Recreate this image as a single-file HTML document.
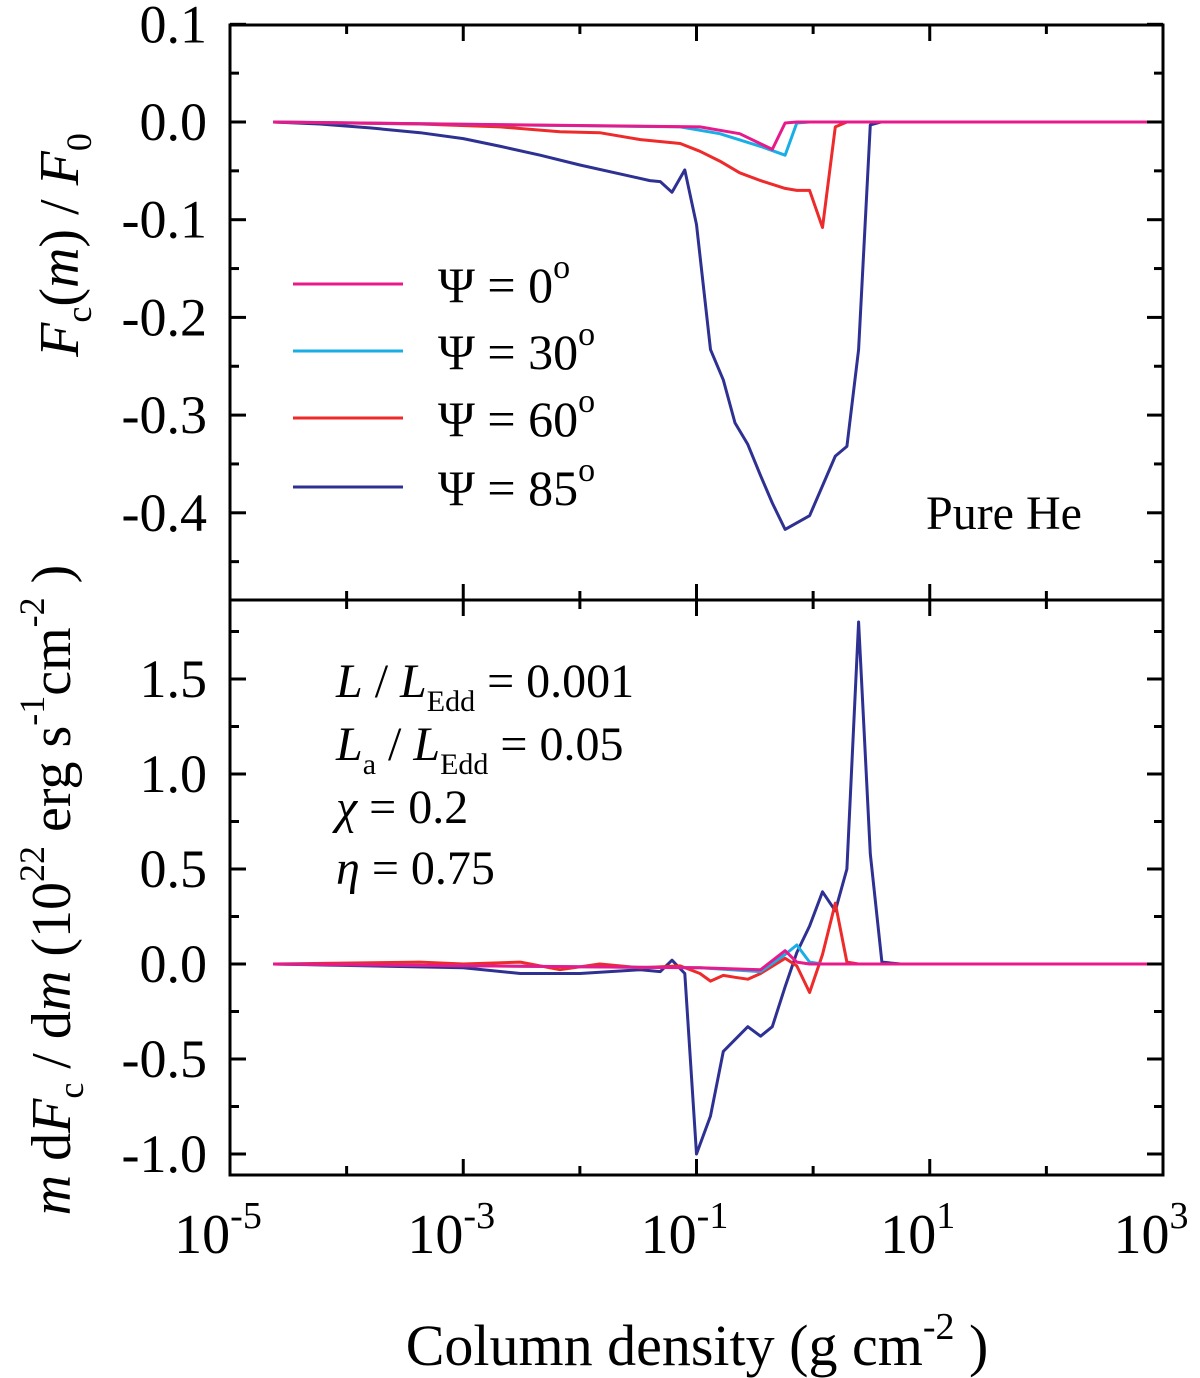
<!DOCTYPE html>
<html><head><meta charset="utf-8">
<style>
html,body{margin:0;padding:0;background:#fff;}
svg{display:block;font-family:"Liberation Serif",serif;}
</style></head>
<body>
<svg id="chart" width="1200" height="1378" viewBox="0 0 1200 1378" xmlns="http://www.w3.org/2000/svg">
<g id="layer"></g>
</svg>
<script>
// ---- data (x = log10 column density) ----
const topX85=[-4.63,-4.23,-3.80,-3.37,-3.00,-2.68,-2.34,-2.0,-1.66,-1.40,-1.31,-1.21,-1.10,-1.0,-0.88,-0.77,-0.67,-0.56,-0.45,-0.35,-0.24,-0.03,0.19,0.29,0.39,0.49,0.58,3];
const topY85=[0,-0.002,-0.006,-0.011,-0.017,-0.025,-0.034,-0.044,-0.053,-0.06,-0.061,-0.072,-0.049,-0.105,-0.233,-0.264,-0.308,-0.33,-0.362,-0.39,-0.417,-0.403,-0.342,-0.332,-0.233,-0.003,0,0];
const topX60=[-4.63,-3.37,-2.68,-2.17,-1.83,-1.48,-1.14,-0.97,-0.80,-0.63,-0.45,-0.24,-0.14,-0.03,0.08,0.19,0.29,3];
const topY60=[0,-0.002,-0.005,-0.01,-0.011,-0.018,-0.022,-0.03,-0.04,-0.052,-0.06,-0.068,-0.07,-0.07,-0.108,-0.005,0,0];
const topX30=[-4.63,-1.14,-0.80,-0.45,-0.24,-0.14,-0.03,3];
const topY30=[0,-0.005,-0.012,-0.025,-0.034,-0.001,0,0];
const topX0=[-4.63,-0.97,-0.63,-0.35,-0.24,-0.14,3];
const topY0=[0,-0.005,-0.012,-0.028,-0.001,0,0];
const botX85=[-4.63,-3.00,-2.51,-2.0,-1.48,-1.31,-1.21,-1.10,-1.0,-0.88,-0.77,-0.56,-0.45,-0.35,-0.24,-0.14,-0.03,0.08,0.19,0.29,0.39,0.49,0.59,0.75,3];
const botY85=[0,-0.02,-0.05,-0.05,-0.03,-0.04,0.02,-0.05,-1.0,-0.8,-0.46,-0.33,-0.38,-0.33,-0.12,0.06,0.2,0.38,0.28,0.5,1.8,0.58,0.01,0,0];
const botX60=[-4.63,-3.37,-3.00,-2.51,-2.17,-1.83,-1.48,-1.14,-0.97,-0.88,-0.77,-0.67,-0.56,-0.45,-0.24,-0.14,-0.03,0.08,0.19,0.29,0.39,3];
const botY60=[0,0.01,0,0.01,-0.03,0,-0.02,-0.01,-0.05,-0.09,-0.06,-0.07,-0.08,-0.05,0.03,-0.01,-0.15,0.05,0.32,0.01,0,0];
const botX30=[-4.63,-0.97,-0.45,-0.24,-0.14,-0.03,0.08,3];
const botY30=[0,-0.02,-0.04,0.05,0.1,0.01,0,0];
const botX0=[-4.63,-0.97,-0.45,-0.24,-0.14,-0.03,3];
const botY0=[0,-0.02,-0.03,0.07,0.01,0,0];
const xTickLabels=["-5","-3","-1","1","3"];
const topTickLabels=["0.1","0.0","-0.1","-0.2","-0.3","-0.4"];
const topTickValues=[0.1,0,-0.1,-0.2,-0.3,-0.4];
const botTickLabels=["1.5","1.0","0.5","0.0","-0.5","-1.0"];
const botTickValues=[1.5,1.0,0.5,0,-0.5,-1.0];

const L=230,R=1163,T=25,M=600,B=1175;
const xs=v=>L+(v+5)*(R-L)/8;
const yTop=v=>122-v*977;
const yBot=v=>964-v*190;
const NS="http://www.w3.org/2000/svg";
const layer=document.getElementById('layer');
function el(tag,attrs,parent){const e=document.createElementNS(NS,tag);for(const k in attrs)e.setAttribute(k,attrs[k]);(parent||layer).appendChild(e);return e;}

function series(xa,ya,yf,color,name){
  const pts=xa.map((x,i)=>xs(x).toFixed(1)+','+yf(ya[i]).toFixed(1)).join(' ');
  const p=el('polyline',{points:pts,fill:'none',stroke:color,'stroke-width':3,'stroke-linejoin':'round'});
  
  
}
const C0='#e8198b',C30='#1aaee6',C60='#ee2a2a',C85='#2e3192';
series(topX85,topY85,yTop,C85,'top-line-psi85');
series(topX60,topY60,yTop,C60,'top-line-psi60');
series(topX30,topY30,yTop,C30,'top-line-psi30');
series(topX0,topY0,yTop,C0,'top-line-psi0');
series(botX85,botY85,yBot,C85,'bottom-line-psi85');
series(botX60,botY60,yBot,C60,'bottom-line-psi60');
series(botX30,botY30,yBot,C30,'bottom-line-psi30');
series(botX0,botY0,yBot,C0,'bottom-line-psi0');

const f1=el('rect',{x:L,y:T,width:R-L,height:M-T,fill:'none',stroke:'#000','stroke-width':3});


const f2=el('rect',{x:L,y:M,width:R-L,height:B-M,fill:'none',stroke:'#000','stroke-width':3});



for(let d=-5;d<=3;d++){
  const x=xs(d);
  const len=(d%2!==0)?16:9;
  [[B,-1],[M,1],[M,-1],[T,1]].forEach(([y,s])=>el('line',{x1:x,x2:x,y1:y,y2:y+s*len,stroke:'#000','stroke-width':3}));
}
xTickLabels.forEach((lab,i)=>{
  const x=xs(Number(lab));
  const t=el('text',{x:x-12,y:1253,'font-size':56,'text-anchor':'middle'});
  t.textContent='10';
  const s=el('tspan',{dy:-25,'font-size':38});s.textContent=lab;t.appendChild(s);
  
  
});
for(let v=0.1;v>-0.49;v-=0.05){
  const y=yTop(v);const major=Math.abs(Math.round(v*20))%2===0;const len=major?16:9;
  el('line',{x1:L,x2:L+len,y1:y,y2:y,stroke:'#000','stroke-width':3});
  el('line',{x1:R,x2:R-len,y1:y,y2:y,stroke:'#000','stroke-width':3});
}
topTickLabels.forEach((lab,i)=>{
  const t=el('text',{x:207,y:yTop(topTickValues[i])+18,'font-size':54,'text-anchor':'end'});
  t.textContent=lab;
  
  
});
for(let v=1.75;v>-1.11;v-=0.25){
  const y=yBot(v);const major=Math.round(v*4)%2===0;const len=major?16:9;
  if(y<M+2)continue;
  el('line',{x1:L,x2:L+len,y1:y,y2:y,stroke:'#000','stroke-width':3});
  el('line',{x1:R,x2:R-len,y1:y,y2:y,stroke:'#000','stroke-width':3});
}
botTickLabels.forEach((lab,i)=>{
  const t=el('text',{x:207,y:yBot(botTickValues[i])+18,'font-size':54,'text-anchor':'end'});
  t.textContent=lab;
  
  
});

const legNames=['0','30','60','85'],legCols=[C0,C30,C60,C85],legY=[284,351,418,487];
legNames.forEach((n,i)=>{
  const ln=el('line',{x1:293,x2:403,y1:legY[i],y2:legY[i],stroke:legCols[i],'stroke-width':3});
  
  
  const t=el('text',{x:438,y:legY[i]+18,'font-size':50});
  t.textContent='\u03A8 = '+n;
  const s=el('tspan',{dy:-24,'font-size':34});s.textContent='o';t.appendChild(s);
  
  
});
</script>
<svg style="position:absolute;left:0;top:0" width="1200" height="1378" xmlns="http://www.w3.org/2000/svg" font-family="Liberation Serif, serif">
<text x="926" y="529" font-size="48">Pure He</text>
<g font-size="48">
<text x="336" y="697"><tspan font-style="italic">L</tspan> / <tspan font-style="italic">L</tspan><tspan font-size="30" dy="14">Edd</tspan><tspan dy="-14"> = 0.001</tspan></text>
<text x="336" y="760"><tspan font-style="italic">L</tspan><tspan font-size="30" dy="14">a</tspan><tspan dy="-14"> / </tspan><tspan font-style="italic">L</tspan><tspan font-size="30" dy="14">Edd</tspan><tspan dy="-14"> = 0.05</tspan></text>
<text x="336" y="823"><tspan font-style="italic">χ</tspan> = 0.2</text>
<text x="336" y="884"><tspan font-style="italic">η</tspan> = 0.75</text>
</g>
<text x="697" y="1365" font-size="58" text-anchor="middle">Column density (g cm<tspan font-size="38" dy="-26">-2</tspan><tspan dy="26"> )</tspan></text>
<text transform="translate(78,245) rotate(-90)" font-size="56" text-anchor="middle"><tspan font-style="italic">F</tspan><tspan font-size="36" dy="13">c</tspan><tspan dy="-13">(</tspan><tspan font-style="italic">m</tspan>) / <tspan font-style="italic">F</tspan><tspan font-size="36" dy="13">0</tspan></text>
<text transform="translate(70,890) rotate(-90)" font-size="56" text-anchor="middle"><tspan font-style="italic">m</tspan> d<tspan font-style="italic">F</tspan><tspan font-size="36" dy="13">c</tspan><tspan dy="-13"> / d</tspan><tspan font-style="italic">m</tspan> (10<tspan font-size="36" dy="-26">22</tspan><tspan dy="26"> erg s</tspan><tspan font-size="36" dy="-26">-1</tspan><tspan dy="26">cm</tspan><tspan font-size="36" dy="-26">-2</tspan><tspan dy="26"> )</tspan></text>
</svg>
</body></html>
